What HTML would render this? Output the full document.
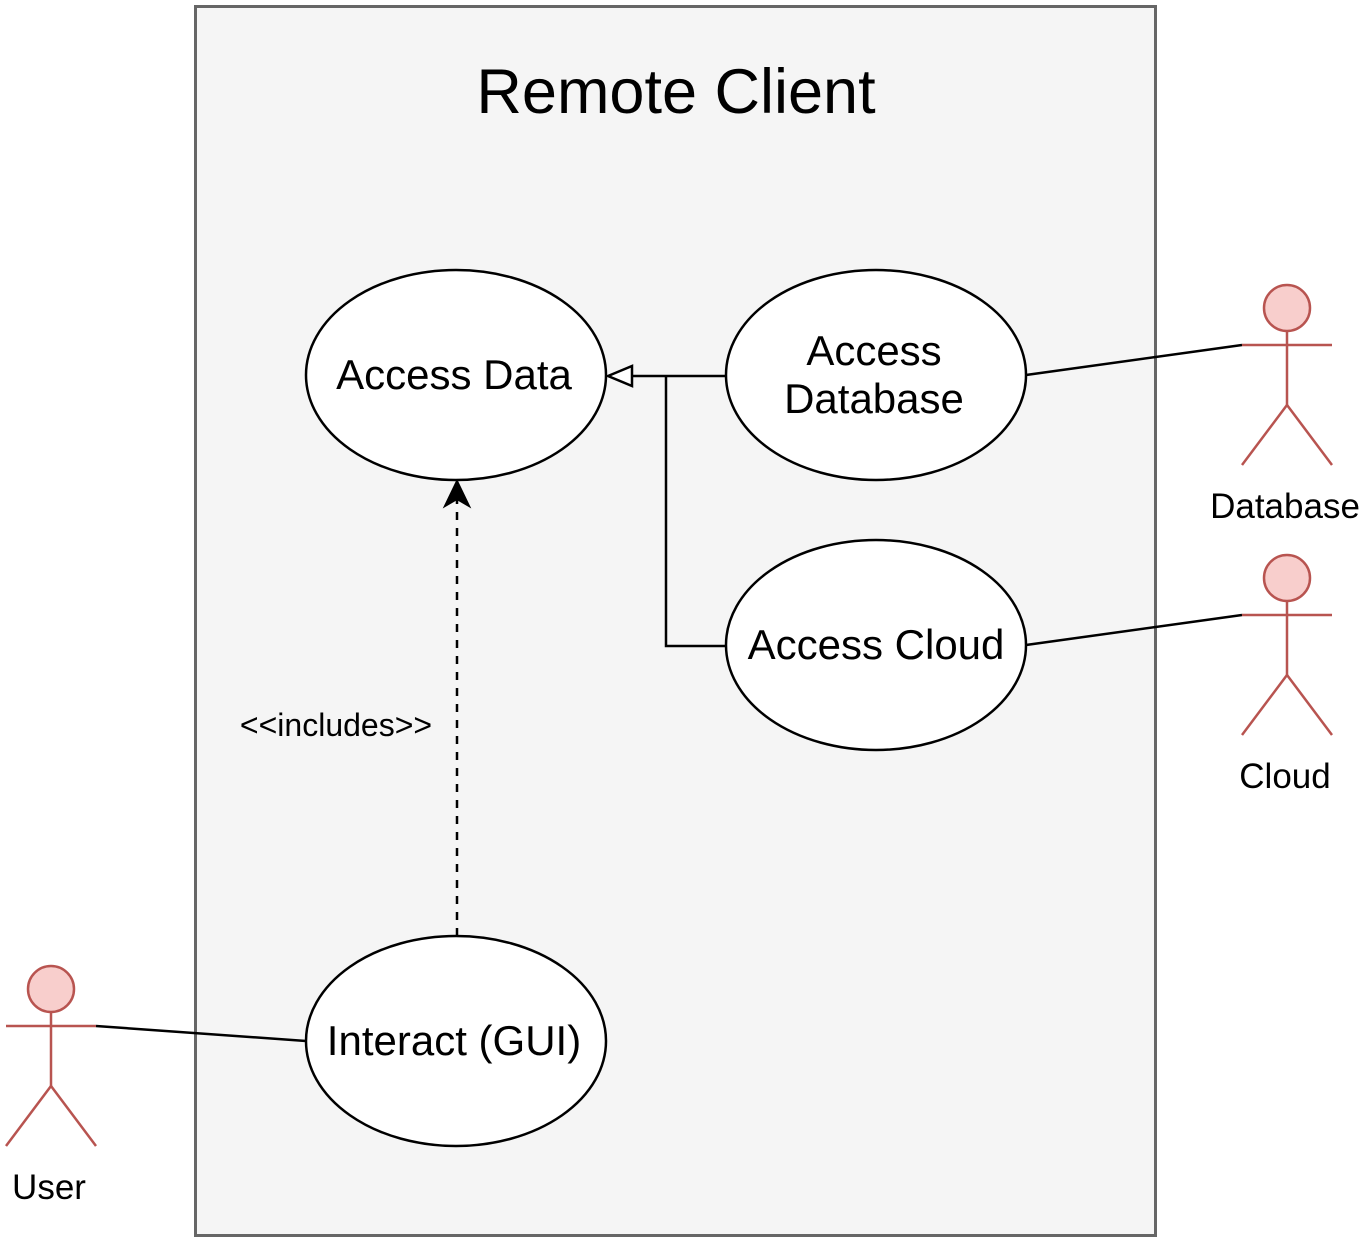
<!DOCTYPE html>
<html><head><meta charset="utf-8"><style>html,body{margin:0;padding:0;background:#fff}svg{display:block}</style></head>
<body>
<svg width="1369" height="1246" viewBox="0 0 1369 1246" xmlns="http://www.w3.org/2000/svg" font-family="'Liberation Sans', Arial, sans-serif">
<rect x="195.5" y="6.5" width="960" height="1229" fill="#f5f5f5" stroke="#666" stroke-width="3"/>
<text x="676" y="113" font-size="63" text-anchor="middle" fill="#000">Remote Client</text>

<g fill="#fff" stroke="#000" stroke-width="2.5">
<ellipse cx="456" cy="375" rx="150" ry="105"/>
<ellipse cx="876" cy="375" rx="150" ry="105"/>
<ellipse cx="876" cy="645" rx="150" ry="105"/>
<ellipse cx="456" cy="1041" rx="150" ry="105"/>
</g>
<g font-size="42" text-anchor="middle" fill="#000">
<text x="454" y="389">Access Data</text>
<text x="874" y="365">Access</text>
<text x="874" y="413">Database</text>
<text x="876" y="659">Access Cloud</text>
<text x="454" y="1055">Interact (GUI)</text>
</g>

<g fill="none" stroke="#000" stroke-width="2.5">
<polyline points="726,376 632,376"/>
<polyline points="726,646 666,646 666,376"/>
<polygon points="608,376 632,366 632,386" fill="#fff"/>
<line x1="457" y1="936" x2="457" y2="500" stroke-dasharray="8,8"/>
<line x1="1026" y1="375" x2="1242" y2="345"/>
<line x1="1026" y1="645" x2="1242" y2="615"/>
<line x1="96" y1="1026" x2="306" y2="1041"/>
</g>
<polygon points="457,481 469,506 457,499 445,506" fill="#000" stroke="#000" stroke-width="2"/>
<text x="336" y="736" font-size="32" text-anchor="middle" fill="#000">&lt;&lt;includes&gt;&gt;</text>

<g stroke="#b85450" stroke-width="2.5" fill="none">
<circle cx="1287" cy="308" r="23" fill="#f8cecc"/>
<line x1="1287" y1="331" x2="1287" y2="405"/>
<line x1="1242" y1="345" x2="1332" y2="345"/>
<polyline points="1242,465 1287,405 1332,465"/>
<circle cx="1287" cy="578" r="23" fill="#f8cecc"/>
<line x1="1287" y1="601" x2="1287" y2="675"/>
<line x1="1242" y1="615" x2="1332" y2="615"/>
<polyline points="1242,735 1287,675 1332,735"/>
<circle cx="51" cy="989" r="23" fill="#f8cecc"/>
<line x1="51" y1="1012" x2="51" y2="1086"/>
<line x1="6" y1="1026" x2="96" y2="1026"/>
<polyline points="6,1146 51,1086 96,1146"/>
</g>
<g font-size="35" text-anchor="middle" fill="#000">
<text x="1285" y="518">Database</text>
<text x="1285" y="788">Cloud</text>
<text x="49" y="1199">User</text>
</g>
</svg>
</body></html>
